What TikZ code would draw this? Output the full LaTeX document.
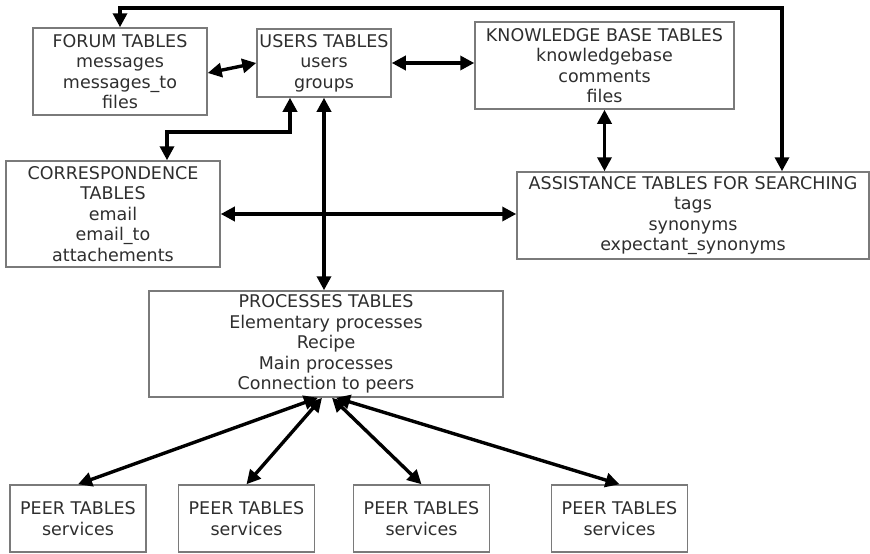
\documentclass[tikz,border=0pt]{standalone}
\usepackage{fontspec}
\setmainfont{DejaVu Sans}
\usetikzlibrary{calc}
\usetikzlibrary{arrows.meta,positioning}
\definecolor{boxgray}{HTML}{7A7A7A}
\definecolor{textgray}{HTML}{2E2E2E}

\begin{document}
\begin{tikzpicture}[x=1pt,y=-1pt,>={Triangle[length=14pt,width=14pt]},line width=3.4pt]
	\tikzstyle{every node}=[font=\fontsize{17.5}{20.5}\selectfont]
	\tikzstyle{table}=[rectangle,draw=boxgray,line width=1.5pt,align=center,text=textgray,inner sep=0pt]
	\tikzstyle{peer}=[table,minimum width=136pt,minimum height=67pt]
	\useasboundingbox (0,0) rectangle (870,554);

	\node[table,minimum width=174pt,minimum height=87pt] (forum) at (120,71.5) {FORUM TABLES\\messages\\messages\_to\\files};
	\node[table,minimum width=134pt,minimum height=68pt] (users) at (324,63) {USERS TABLES\\users\\groups};
	\node[table,minimum width=259pt,minimum height=87pt] (know) at (604.5,65.5) {KNOWLEDGE BASE TABLES\\knowledgebase\\comments\\files};
	\node[table,minimum width=214pt,minimum height=106pt] (corr) at (113,214) {CORRESPONDENCE\\TABLES\\email\\email\_to\\attachements};
	\node[table,minimum width=352pt,minimum height=87pt] (assist) at (693,215.5) {ASSISTANCE TABLES FOR SEARCHING\\tags\\synonyms\\expectant\_synonyms};
	\node[table,minimum width=354pt,minimum height=106pt] (proc) at (326,344) {PROCESSES TABLES\\Elementary processes\\Recipe\\Main processes\\Connection to peers};
	\node[peer] (peer1) at (78,518.5) {PEER TABLES\\services};
	\node[peer] (peer2) at (246.5,518.5) {PEER TABLES\\services};
	\node[peer] (peer3) at (421.5,518.5) {PEER TABLES\\services};
	\node[peer] (peer4) at (619.5,518.5) {PEER TABLES\\services};

	\coordinate (topline) at (0,8);
	\coordinate (corrbend) at (230,132);

	\path[<->]
	% forum
	([yshift=-1.5pt]forum.east) edge (users.west)
	% users
	(users.east) edge (users.east -| know.west)
	(users.south) edge (users.south |- proc.north)
	% know
	(know.south) edge (know.south |- assist.north)
	% corr
	(corr.east) edge (corr.east -| assist.west)
	% proc
	([xshift=-8pt]proc.south) edge (peer1.north)
	([xshift=-4pt]proc.south) edge (peer2.north)
	([xshift=6pt]proc.south) edge (peer3.north)
	([xshift=10pt]proc.south) edge (peer4.north)
	;
	\draw[<->] (forum.north) -- (forum.north |- topline) -| ([xshift=89pt]assist.north);
	\draw[<->] ([xshift=54pt]corr.north) |- (corrbend) -| ([xshift=-34pt]users.south);
\end{tikzpicture}
\end{document}
